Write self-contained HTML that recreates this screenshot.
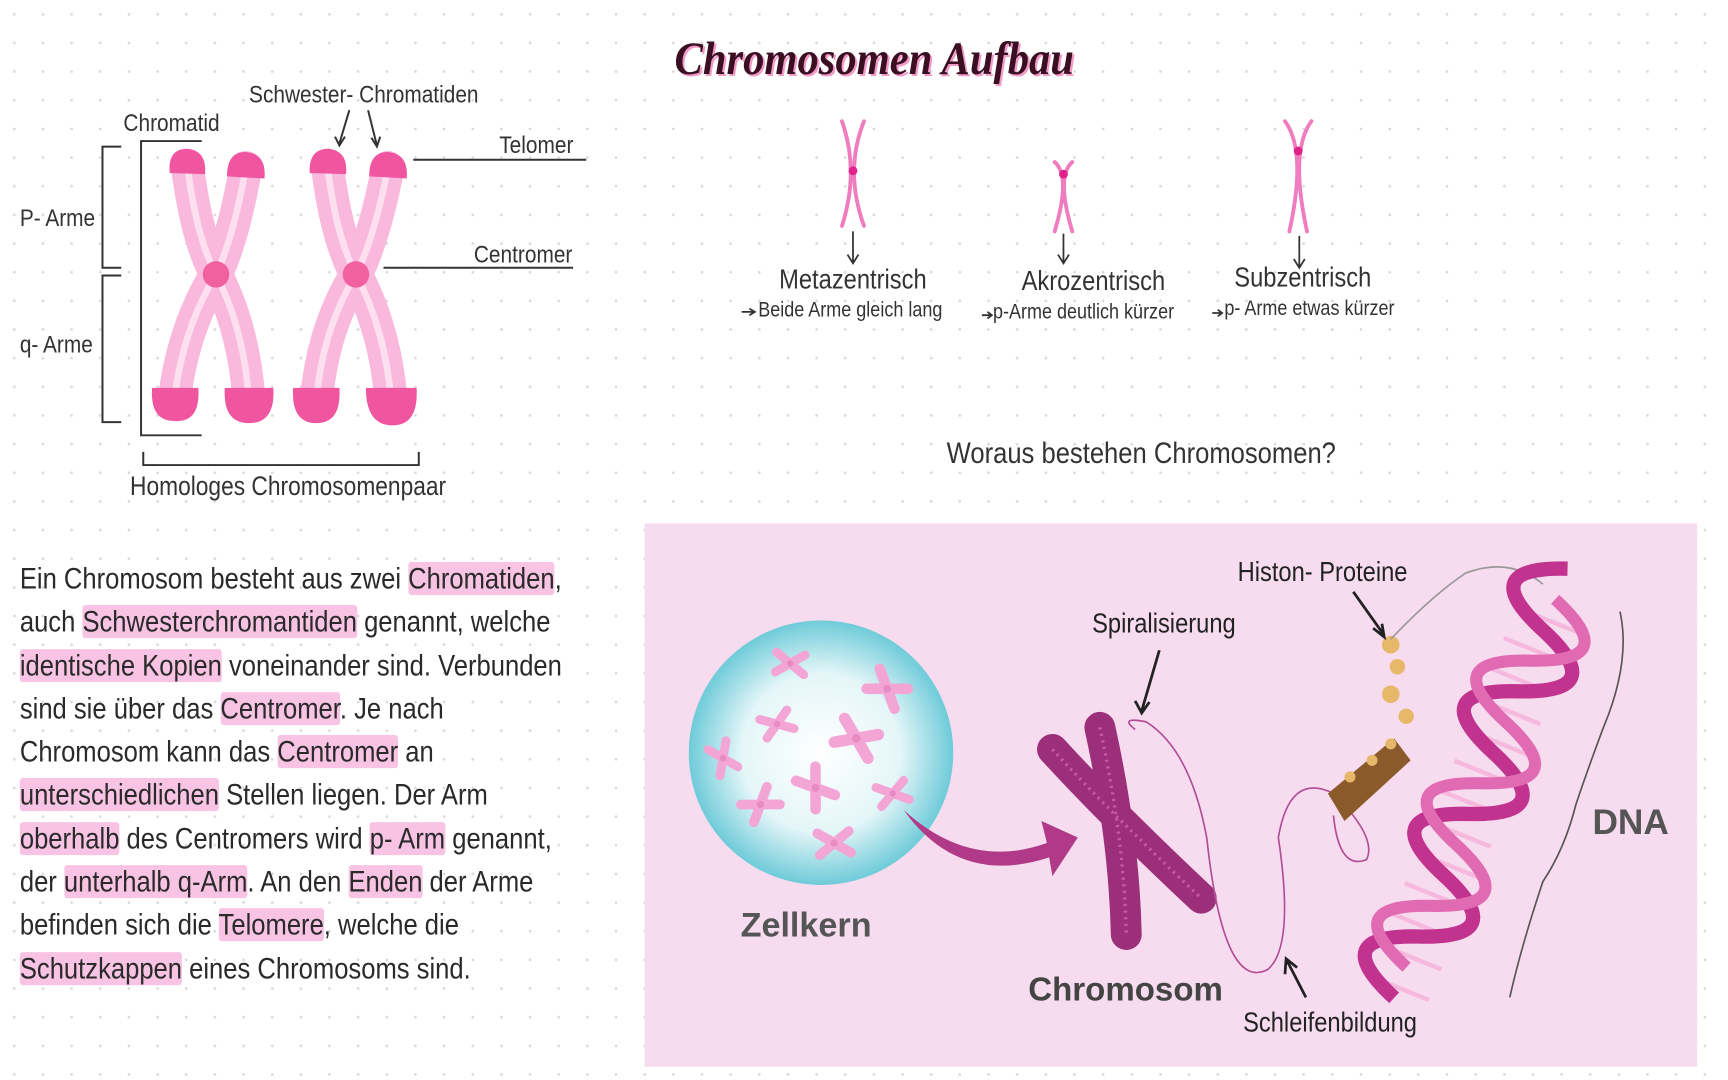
<!DOCTYPE html>
<html><head><meta charset="utf-8"><style>
html,body{margin:0;padding:0;width:1728px;height:1080px;overflow:hidden;background:#fff}
#w{position:absolute;left:0;top:0;width:1568px;height:980px;transform:scale(1.10204);transform-origin:0 0;font-family:"Liberation Sans Narrow","Liberation Sans",sans-serif;color:#333}
.t{position:absolute;white-space:nowrap;transform:scaleX(0.86);transform-origin:0 0}
.b{transform:none}
#p{position:absolute;left:18px;top:506px;font-size:27px;line-height:39.3px;white-space:nowrap;color:#2a2a2a;transform:scaleX(0.86);transform-origin:0 0}
#p span{background:#f9c4e4;border-radius:3px}
</style></head><body><div id="w">
<svg width="1568" height="980" viewBox="0 0 1568 980" style="position:absolute;left:0;top:0">
<defs>
<pattern id="dots" width="26" height="26" patternUnits="userSpaceOnUse"><circle cx="13" cy="13" r="1.2" fill="#d8d8d8"/></pattern>
<radialGradient id="nuc" cx="50%" cy="50%" r="50%"><stop offset="0" stop-color="#fff"/><stop offset="0.6" stop-color="#e4f6f8"/><stop offset="1" stop-color="#6fcbd9"/></radialGradient>
<g id="mini"><path d="M-14,-8 L14,8 M-12,10 L12,-10" stroke="#f3a6d6" stroke-width="8" stroke-linecap="round"/><circle r="3" fill="#e88ac4"/></g>
</defs>
<rect width="1568" height="980" fill="url(#dots)"/>
<g fill="none" stroke-linecap="round">
<path d="M170,150 Q178,215 196,249 Q165,300 158,365" stroke="#f9b8dc" stroke-width="30"/>
<path d="M223,152 Q212,215 196,249 Q222,300 226,365" stroke="#f9b8dc" stroke-width="30"/>
<path d="M297,150 Q305,215 323,249 Q292,300 287,365" stroke="#f9b8dc" stroke-width="30"/>
<path d="M352,152 Q340,215 323,249 Q350,300 355,365" stroke="#f9b8dc" stroke-width="30"/>
<path d="M170,150 Q178,215 196,249 Q165,300 158,365 M223,152 Q212,215 196,249 Q222,300 226,365 M297,150 Q305,215 323,249 Q292,300 287,365 M352,152 Q340,215 323,249 Q350,300 355,365" stroke="#fde0ef" stroke-width="6"/>
</g>
<g fill="#f0559f">
<path d="M154,157 Q152,135 170,135 Q188,137 186,158 Z"/>
<path d="M206,160 Q206,137 224,138 Q242,140 240,162 Z"/>
<path d="M281,157 Q280,135 298,135 Q316,137 314,158 Z"/>
<path d="M335,160 Q335,137 353,138 Q371,140 369,162 Z"/>
<path d="M138,352 L180,352 Q182,384 158,382 Q136,382 138,352 Z"/>
<path d="M204,352 L248,352 Q250,384 226,384 Q202,384 204,352 Z"/>
<path d="M266,352 L308,352 Q310,384 287,384 Q264,384 266,352 Z"/>
<path d="M332,352 L378,352 Q380,386 356,386 Q332,386 332,352 Z"/>
<circle cx="196" cy="249" r="12" fill="#f2619f"/><circle cx="323" cy="249" r="12" fill="#f2619f"/>
</g>
<g stroke="#333" stroke-width="1.8" fill="none">
<path d="M110,133 H93 V243 H110"/><path d="M110,250 H93 V383 H110"/>
<path d="M183,128 H128 V395 H183"/><path d="M130,410 V422 H380 V410"/>
<path d="M375,145 H532"/><path d="M348,243 H520"/>
<path d="M317,100 L308,130 M334,100 L342,132"/>
<path d="M304,124 L308,132 L313,124 M337,125 L342,133 L345,124"/>
</g>
<g fill="none" stroke="#f07cc0" stroke-width="3.5" stroke-linecap="round">
<path d="M764,110 Q780,155 764,205"/><path d="M784,110 Q766,155 784,205"/>
<path d="M957,147 Q972,160 957,210"/><path d="M973,147 Q958,160 973,210"/>
<path d="M1166,110 Q1186,137 1170,210"/><path d="M1190,110 Q1170,137 1186,210"/>
</g>
<circle cx="774" cy="155" r="4" fill="#e0218a"/><circle cx="965" cy="158" r="4" fill="#e0218a"/><circle cx="1178" cy="137" r="4" fill="#e0218a"/>
<g stroke="#333" stroke-width="1.6" fill="none">
<path d="M774,210 V238 M769,231 L774,239 L779,231"/>
<path d="M965,212 V238 M960,231 L965,239 L970,231"/>
<path d="M1179,214 V242 M1174,235 L1179,243 L1184,235"/>
<path d="M673,283 H684 M680,280 L685,283 L680,286"/>
<path d="M891,286 H899 M896,283 L900,286 L896,289"/>
<path d="M1100,284 H1108 M1105,281 L1109,284 L1105,287"/>
</g>
<rect x="585" y="475" width="955" height="493" fill="#f7dcef"/>
<circle cx="745" cy="683" r="120" fill="url(#nuc)"/>
<use href="#mini" transform="translate(717,602) rotate(10)"/><use href="#mini" transform="translate(805,625) rotate(40) scale(1.2)"/>
<use href="#mini" transform="translate(705,657) rotate(-15)"/><use href="#mini" transform="translate(777,670) rotate(30) scale(1.3)"/>
<use href="#mini" transform="translate(656,688) rotate(70)"/><use href="#mini" transform="translate(740,715) rotate(60) scale(1.2)"/>
<use href="#mini" transform="translate(690,730) rotate(-30) scale(1.1)"/><use href="#mini" transform="translate(810,720) rotate(-10)"/>
<use href="#mini" transform="translate(757,765) rotate(0) scale(1.1)"/>
<path d="M820,735 Q880,790 950,765 L945,745 L978,760 L955,795 L952,778 Q870,805 820,735 Z" fill="#b03a87"/>
<g stroke="#9c2f7a" stroke-width="28" stroke-linecap="round" fill="none">
<path d="M955,680 Q1010,740 1090,815"/><path d="M998,660 Q1020,760 1022,848"/>
</g>
<g stroke="#c75ba3" stroke-width="3" fill="none" stroke-dasharray="2 4">
<path d="M955,680 Q1010,740 1090,815"/><path d="M998,660 Q1020,760 1022,848"/>
</g>
<path d="M1030,662 Q1015,650 1040,655 Q1080,680 1095,760 Q1110,900 1150,880 Q1175,860 1160,760 Q1170,700 1210,720 Q1250,760 1240,780 Q1215,790 1210,740" fill="none" stroke="#b04d94" stroke-width="1.5"/>
<path d="M1205,720 L1265,670 L1280,690 L1220,745 Z" fill="#8a5a2a"/>
<g fill="#e8b86a"><circle cx="1262" cy="585" r="8"/><circle cx="1268" cy="605" r="7"/><circle cx="1262" cy="630" r="8"/><circle cx="1276" cy="650" r="7"/><circle cx="1225" cy="705" r="5"/><circle cx="1245" cy="690" r="5"/><circle cx="1262" cy="675" r="5"/></g>
<path d="M1262,580 Q1300,540 1330,520 Q1370,505 1400,530" fill="none" stroke="#999" stroke-width="1.5"/>
<g transform="translate(1340,720) rotate(-68)">
<g stroke="#f6b8dc" stroke-width="4"><path d="M-190,-30 V30 M-160,-30 V30 M-130,-30 V30 M-100,-30 V30 M-70,-30 V30 M-40,-30 V30 M-10,-30 V30 M20,-30 V30 M50,-30 V30 M80,-30 V30 M110,-30 V30 M140,-30 V30 M170,-30 V30"/></g>
<path d="M-200,0 Q-170,-80 -140,0 T-80,0 T-20,0 T40,0 T100,0 T160,0 T220,0" fill="none" stroke="#c2338f" stroke-width="13"/>
<path d="M-170,0 Q-140,-80 -110,0 T-50,0 T10,0 T70,0 T130,0 T190,0" fill="none" stroke="#e06bb3" stroke-width="11"/>
</g>
<path d="M1470,555 Q1480,600 1455,660 Q1440,700 1430,730 Q1420,770 1400,800 Q1380,860 1370,905" fill="none" stroke="#555" stroke-width="1.5"/>
<g stroke="#222" stroke-width="2.5" fill="none">
<path d="M1052,590 L1036,645 M1030,636 L1036,647 L1043,637"/>
<path d="M1228,537 L1255,575 M1246,570 L1256,578 L1254,566"/>
<path d="M1185,905 L1168,872 M1166,884 L1167,870 L1177,878"/>
</g>
</svg>
<div class="t" style="left:612px;top:30px;font-family:'Liberation Serif',serif;font-style:italic;font-weight:bold;font-size:42px;color:#3a0f22;text-shadow:2px 2px 0 #f49ac8;transform:scaleX(0.92)">Chromosomen Aufbau</div>
<div class="t" style="left:226px;top:73px;font-size:22px">Schwester- Chromatiden</div>
<div class="t" style="left:112px;top:99px;font-size:22px">Chromatid</div>
<div class="t" style="left:453px;top:119px;font-size:22px">Telomer</div>
<div class="t" style="left:430px;top:218px;font-size:22px">Centromer</div>
<div class="t" style="left:18px;top:185px;font-size:22px">P- Arme</div>
<div class="t" style="left:18px;top:300px;font-size:22px">q- Arme</div>
<div class="t" style="left:118px;top:428px;font-size:24px">Homologes Chromosomenpaar</div>
<div class="t" style="left:707px;top:240px;font-size:25px">Metazentrisch</div>
<div class="t" style="left:927px;top:241px;font-size:25px">Akrozentrisch</div>
<div class="t" style="left:1120px;top:238px;font-size:25px">Subzentrisch</div>
<div class="t" style="left:688px;top:271px;font-size:19px">Beide Arme gleich lang</div>
<div class="t" style="left:901px;top:273px;font-size:19px">p-Arme deutlich kürzer</div>
<div class="t" style="left:1111px;top:270px;font-size:19px">p- Arme etwas kürzer</div>
<div class="t" style="left:859px;top:396px;font-size:27px">Woraus bestehen Chromosomen?</div>
<div class="t" style="left:1123px;top:505px;font-size:25px;color:#222">Histon- Proteine</div>
<div class="t" style="left:991px;top:552px;font-size:25px;color:#222">Spiralisierung</div>
<div class="t" style="left:1128px;top:914px;font-size:25px;color:#222">Schleifenbildung</div>
<div class="t b" style="left:672px;top:822px;font-family:'Liberation Sans',sans-serif;font-weight:bold;font-size:31px;color:#555">Zellkern</div>
<div class="t b" style="left:933px;top:882px;font-family:'Liberation Sans',sans-serif;font-weight:bold;font-size:30px;color:#444">Chromosom</div>
<div class="t b" style="left:1445px;top:728px;font-family:'Liberation Sans',sans-serif;font-weight:bold;font-size:32px;color:#555">DNA</div>
<div id="p">Ein Chromosom besteht aus zwei <span>Chromatiden</span>,<br>auch <span>Schwesterchromantiden</span> genannt, welche<br><span>identische Kopien</span> voneinander sind. Verbunden<br>sind sie über das <span>Centromer</span>. Je nach<br>Chromosom kann das <span>Centromer</span> an<br><span>unterschiedlichen</span> Stellen liegen. Der Arm<br><span>oberhalb</span> des Centromers wird <span>p- Arm</span> genannt,<br>der <span>unterhalb q-Arm</span>. An den <span>Enden</span> der Arme<br>befinden sich die <span>Telomere</span>, welche die<br><span>Schutzkappen</span> eines Chromosoms sind.</div>
</div></body></html>
